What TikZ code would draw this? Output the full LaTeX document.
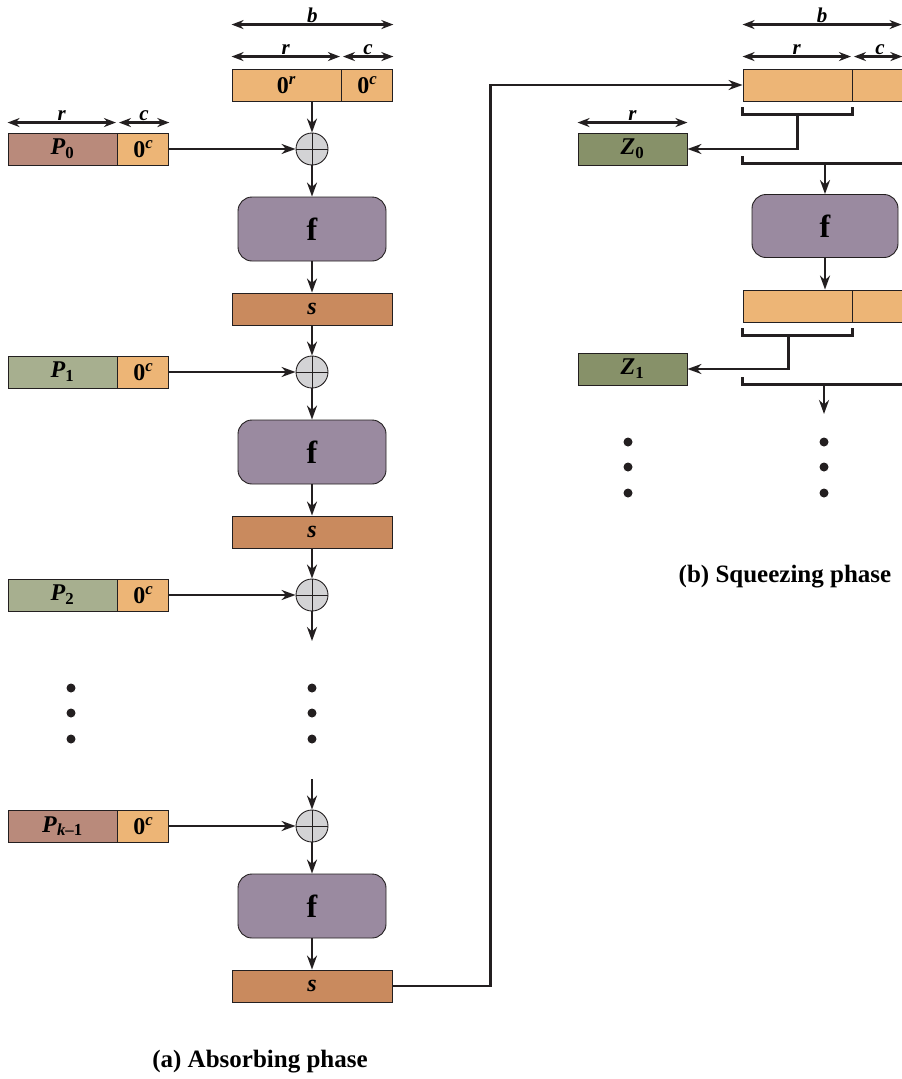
\documentclass[tikz,border=0pt]{standalone}
\usepackage{fontspec}
\setmainfont{Liberation Serif}
\usetikzlibrary{positioning,arrows.meta,calc}
\definecolor{zero300} {HTML}{EDB576}
\definecolor{rust400} {HTML}{C98A5E}
\definecolor{plum300} {HTML}{9A8AA0}
\definecolor{rose300} {HTML}{B98A7B}
\definecolor{sage200} {HTML}{A7AF8F}
\definecolor{olive400}{HTML}{879169}
\definecolor{grey200} {HTML}{D3D3D5}
\definecolor{ink}     {HTML}{231F20}
\newcommand{\bit}[1]{\textbf{\textit{#1}}}
\newcommand{\blk}[2]{\textbf{\textit{#1}\textsubscript{\upshape #2}}}
\tikzset{
  cell/.style  ={draw=ink, line width=0.9pt, minimum height=32pt,
                 inner sep=0pt, font=\fontsize{24}{28}\selectfont\bfseries},
  rcell/.style ={cell, minimum width=109pt},
  ccell/.style ={cell, minimum width=51pt, fill=zero300},
  scell/.style ={cell, minimum width=160pt, fill=rust400},
  fbox/.style  ={draw=ink, line width=0.9pt, fill=plum300,
                 rounded corners=14pt, minimum width=148pt,
                 minimum height=64pt,
                 font=\fontsize{32}{34}\selectfont\bfseries},
  xor/.style   ={circle, draw=ink, line width=0.9pt, fill=grey200,
                 minimum size=32pt, inner sep=0pt,
                 path picture={\draw[ink, line width=0.9pt]
                   (path picture bounding box.north) --
                   (path picture bounding box.south)
                   (path picture bounding box.west) --
                   (path picture bounding box.east);}},
  flow/.style  ={draw=ink, line width=2.6pt,
                 -{Stealth[length=14pt,width=10pt]}},
  dim/.style   ={{Stealth[length=12pt,width=9pt]}-{Stealth[length=12pt,width=9pt]},
                 draw=ink, line width=2.6pt},
  dimlab/.style={above, inner sep=1pt, font=\fontsize{21}{23}\selectfont},
  brk/.style   ={draw=ink, line width=2.6pt},
  ellip/.style ={circle, fill=ink, inner sep=0pt, minimum size=9pt},
  phase/.style ={font=\fontsize{25}{28}\selectfont\bfseries}
}

\begin{document}
\begin{tikzpicture}[x=1pt, y=-1pt]
\useasboundingbox (0,0) rectangle (902,1079);

% (a) absorbing phase
\node[rcell, fill=zero300] (top0r) at (286.5,85) {0\textsuperscript{\textit{r}}};
\node[ccell, right=0pt of top0r] (top0c) {0\textsuperscript{\textit{c}}};
\draw[dim] ([yshift=44pt]top0r.north west) -- node[dimlab]{\bit{b}}
  ([yshift=44pt]top0c.north east);
\draw[dim] ([yshift=12pt]top0r.north west) -- node[dimlab]{\bit{r}}
  ([yshift=12pt,xshift=-1.5pt]top0r.north east);
\draw[dim] ([yshift=12pt,xshift=1.5pt]top0c.north west) -- node[dimlab]{\bit{c}}
  ([yshift=12pt]top0c.north east);

\node[rcell, fill=rose300] (p0) at (62.5,149) {\blk{P}{0}};
\node[ccell, right=0pt of p0] (p0c) {0\textsuperscript{\textit{c}}};
\draw[dim] ([yshift=10pt]p0.north west) -- node[dimlab]{\bit{r}}
  ([yshift=10pt,xshift=-1.5pt]p0.north east);
\draw[dim] ([yshift=10pt,xshift=1.5pt]p0c.north west) -- node[dimlab]{\bit{c}}
  ([yshift=10pt]p0c.north east);
\node[xor] (x0) at (312,149) {};
\node[fbox] (f0) at (312,229) {f};
\node[scell] (s0) at (312,309) {\textit{s}};
\draw[flow] (top0r.south -| x0) -- (x0);
\draw[flow] (p0c) -- (x0);
\draw[flow] (x0) -- (f0);
\draw[flow] (f0) -- (s0);

\node[rcell, fill=sage200] (p1) at (62.5,372) {\blk{P}{1}};
\node[ccell, right=0pt of p1] (p1c) {0\textsuperscript{\textit{c}}};
\node[xor] (x1) at (312,372) {};
\node[fbox] (f1) at (312,452) {f};
\node[scell] (s1) at (312,532) {\textit{s}};
\draw[flow] (s0) -- (x1);
\draw[flow] (p1c) -- (x1);
\draw[flow] (x1) -- (f1);
\draw[flow] (f1) -- (s1);

\node[rcell, fill=sage200] (p2) at (62.5,595) {\blk{P}{2}};
\node[ccell, right=0pt of p2] (p2c) {0\textsuperscript{\textit{c}}};
\node[xor] (x2) at (312,595) {};
\coordinate (gap0) at (312,641);
\draw[flow] (s1) -- (x2);
\draw[flow] (p2c) -- (x2);
\draw[flow] (x2) -- (gap0);

\foreach \yy in {688,713,739} {
  \node[ellip] at (71,\yy) {};
  \node[ellip] at (312,\yy) {};
}

\node[rcell, fill=rose300] (p3) at (62.5,826) {\blk{P}{\bfseries\itshape k\upshape{\textendash}1}};
\node[ccell, right=0pt of p3] (p3c) {0\textsuperscript{\textit{c}}};
\node[xor] (x3) at (312,826) {};
\node[fbox] (f3) at (312,906) {f};
\node[scell] (s3) at (312,986) {\textit{s}};
\coordinate (gap1) at (312,779);
\draw[flow] (gap1) -- (x3);
\draw[flow] (p3c) -- (x3);
\draw[flow] (x3) -- (f3);
\draw[flow] (f3) -- (s3);

\node[phase] (capa) at (260,1062) {(a) Absorbing phase};

% (b) squeezing phase
\node[rcell, fill=zero300] (sq0r) at (797.5,85) {};
\node[ccell, right=0pt of sq0r] (sq0c) {};
\draw[dim] ([yshift=44pt]sq0r.north west) -- node[dimlab]{\bit{b}} ++(159,0);
\draw[dim] ([yshift=12pt]sq0r.north west) -- node[dimlab]{\bit{r}}
  ([yshift=12pt,xshift=-1.5pt]sq0r.north east);
\draw[dim] ([yshift=12pt,xshift=1.5pt]sq0c.north west) -- node[dimlab,xshift=2pt]{\bit{c}}
  ([yshift=12pt,xshift=-2pt]sq0c.north east);
\draw[flow] (s3.east) -- ++(98,0) |- (sq0r.west);

\node[rcell, fill=olive400] (z0) at (632.5,149) {\blk{Z}{0}};
\draw[dim] ([yshift=10pt]z0.north west) -- node[dimlab]{\bit{r}}
  ([yshift=10pt]z0.north east);
\coordinate (sq0low) at ([yshift=-62pt]sq0r.south west);
\draw[brk] ([yshift=-6pt]sq0r.south west) -- ([yshift=-13pt]sq0r.south west)
  -- ([yshift=-13pt]sq0r.south east) -- ([yshift=-6pt]sq0r.south east);
\draw[flow] ([yshift=-13pt]sq0r.south) |- (z0.east);
\draw[brk] ([yshift=-55pt]sq0r.south west) -- (sq0low) -- ++(170,0);

\node[fbox, minimum width=146pt, minimum height=63pt] (f2) at (825,226) {f};
\node[rcell, fill=zero300] (sq1r) at (797.5,306) {};
\node[ccell, right=0pt of sq1r] (sq1c) {};
\draw[flow] (f2.north |- sq0low) -- (f2.north);
\draw[flow] (f2.south) -- (f2.south |- sq1r.north);

\node[rcell, fill=olive400] (z1) at (632.5,369) {\blk{Z}{1}};
\coordinate (sq1low) at ([yshift=-62pt]sq1r.south west);
\coordinate (sq1end) at (824,414);
\draw[brk] ([yshift=-6pt]sq1r.south west) -- ([yshift=-13pt]sq1r.south west)
  -- ([yshift=-13pt]sq1r.south east) -- ([yshift=-6pt]sq1r.south east);
\draw[flow] ([yshift=-13pt,xshift=46pt]sq1r.south west) |- (z1.east);
\draw[brk] ([yshift=-55pt]sq1r.south west) -- (sq1low) -- ++(170,0);
\draw[flow] (sq1end |- sq1low) -- (sq1end);

\foreach \yy in {442,467,493} {
  \node[ellip] at (628,\yy) {};
  \node[ellip] at (824,\yy) {};
}

\node[phase] (capb) at (785,577) {(b) Squeezing phase};
\end{tikzpicture}
\end{document}
